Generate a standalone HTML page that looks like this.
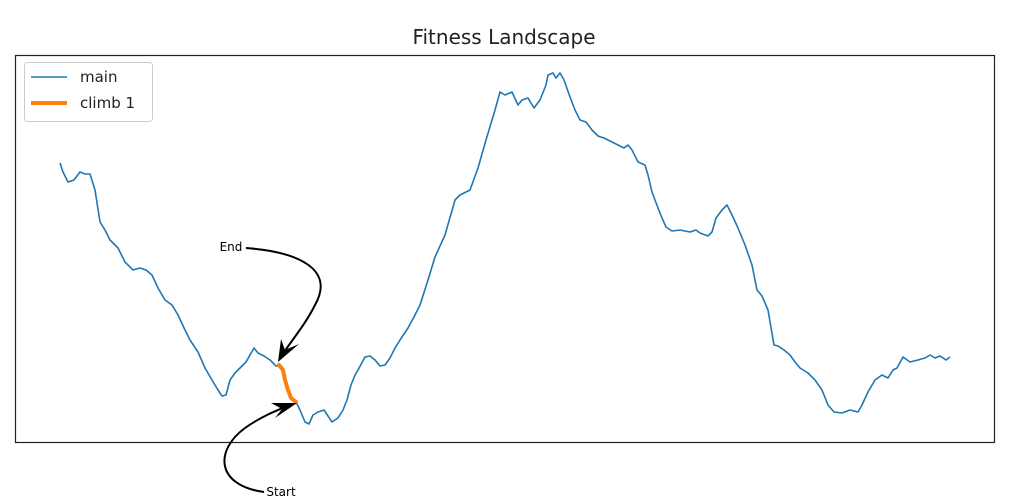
<!DOCTYPE html>
<html><head><meta charset="utf-8"><style>body{margin:0;background:#fff}svg{display:block}</style></head><body>
<svg width="1024" height="501" viewBox="0 0 1024 501" xmlns="http://www.w3.org/2000/svg" font-family="'DejaVu Sans','Liberation Sans',sans-serif">
<rect width="1024" height="501" fill="#fff"/>
<text x="504" y="44" font-size="20" text-anchor="middle" fill="#222">Fitness Landscape</text>
<polyline fill="none" stroke="#1f77b4" stroke-width="1.6" stroke-linejoin="round" points="60,163 63,172 68,182 74,180 80,172 85,174 90,174 95,190 100,222 105,230 110,240 118,248 125,262 133,270 140,268 146,270 152,275 158,288 165,300 172,305 178,315 185,330 190,340 198,352 205,368 212,380 218,390 222,396 226,395 230,380 235,373 240,368 246,362 250,355 254,348 258,353 264,356 270,360 276,366 279,366"/>
<polyline fill="none" stroke="#1f77b4" stroke-width="1.6" stroke-linejoin="round" points="296,402 300,410 305,422 309,424 313,415 318,412 324,410 328,416 332,422 338,418 343,410 347,400 351,385 355,375 358,370 365,357 370,356 375,360 380,366 385,365 390,358 395,348 400,340 408,328 415,315 420,305 428,280 435,257 445,235 455,200 460,195 470,190 478,168 486,140 495,110 500,92 505,95 512,92 518,105 522,100 528,98 534,108 540,100 546,85 548,75 553,73 556,78 560,73 564,80 570,97 575,110 580,120 586,122 592,130 598,136 604,138 612,142 618,145 624,148 628,145 632,150 638,162 645,165 648,175 652,192 658,208 662,218 666,227 672,231 680,230 690,232 696,230 700,233 708,236 712,232 716,218 722,210 727,205 732,215 738,228 745,245 752,265 757,290 762,296 768,310 774,345 778,346 784,350 790,355 795,362 800,368 808,373 815,380 822,390 828,405 834,412 842,413 850,410 858,412 862,405 868,392 875,380 882,375 888,378 893,370 897,368 903,357 910,362 918,360 925,358 930,355 935,358 940,356 946,360 950,357"/>
<polyline fill="none" stroke="#ff7f0e" stroke-width="4" stroke-linecap="round" stroke-linejoin="round" points="279,365 283,370 285,380 288,390 291,398 296,402"/>
<rect x="15.5" y="55.5" width="979" height="387" fill="none" stroke="#222" stroke-width="1.2"/>
<rect x="24.5" y="62.5" width="128" height="59" rx="3" fill="#fff" stroke="#ccc"/>
<line x1="31" y1="77" x2="67" y2="77" stroke="#1f77b4" stroke-width="1.6"/>
<text x="80" y="82" font-size="15" fill="#222">main</text>
<line x1="31" y1="103" x2="67" y2="103" stroke="#ff7f0e" stroke-width="4"/>
<text x="80" y="108" font-size="15" fill="#222">climb 1</text>
<text x="231" y="251" font-size="12" text-anchor="middle" fill="#000">End</text>
<path d="M246,248 C300,252 335,270 315,305 C305,325 292,340 282,355" fill="none" stroke="#000" stroke-width="2"/>
<polygon points="278,362 281,339 285,350 299,344" fill="#000"/>
<text x="281" y="496" font-size="12" text-anchor="middle" fill="#000">Start</text>
<path d="M264,492 C215,485 215,450 245,428 C262,416 278,410 290,405" fill="none" stroke="#000" stroke-width="2"/>
<polygon points="297,403 275,418 282,409 271,403" fill="#000"/>
</svg>
</body></html>
